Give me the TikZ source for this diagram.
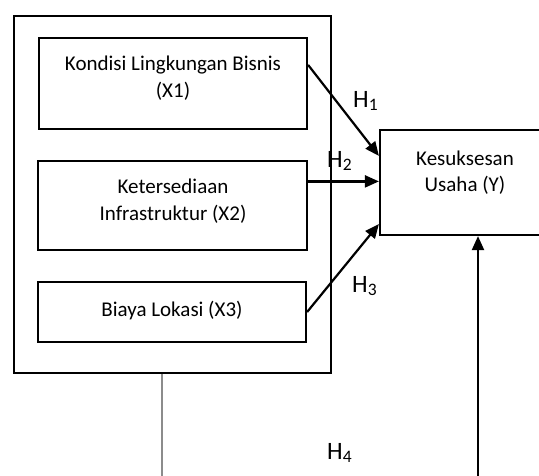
\documentclass[tikz,border=0pt]{standalone}
\usepackage{fontspec}
\setmainfont{Carlito}
\usetikzlibrary{calc,arrows.meta}
\begin{document}
\begin{tikzpicture}[x=1pt,y=-1pt,
  box/.style={draw=black,line width=2.2pt,inner sep=0pt},
  txt/.style={font=\fontsize{21}{26}\selectfont,anchor=base,inner sep=0pt},
  hlab/.style={font=\fontsize{25}{28}\selectfont,anchor=base west,inner sep=0pt},
  arr/.style={line width=2.2pt,-{Triangle[length=14pt,width=12pt]}},
  gline/.style={line width=1.6pt,draw=black!45}]
\useasboundingbox (0,0) rectangle (539,475);
% boxes
\node[box,minimum width=317pt,minimum height=357pt] (outer) at (172.5,194.5) {};
\node[box,minimum width=268pt,minimum height=91pt] (x1) at (173,83.5) {};
\node[box,minimum width=269pt,minimum height=89pt] (x2) at (172.5,205.5) {};
\node[box,minimum width=268pt,minimum height=60pt] (x3) at (172,312) {};
\node[box,minimum width=170pt,minimum height=105pt] (y) at (465,182.5) {};
% texts
\node[txt] (t1a) at (173,70) {Kondisi Lingkungan Bisnis};
\node[txt] (t1b) at (173,97) {(X1)};
\node[txt] (t2a) at (173,193) {Ketersediaan};
\node[txt] (t2b) at (173,220) {Infrastruktur (X2)};
\node[txt] (t3) at (172,316) {Biaya Lokasi (X3)};
\node[txt] (tya) at (465,165) {Kesuksesan};
\node[txt] (tyb) at (465,191) {Usaha (Y)};
% hypothesis labels
\node[hlab] (h1) at (353,107) {H\textsubscript{1}};
\node[hlab] (h2) at (327,167) {H\textsubscript{2}};
\node[hlab] (h3) at (352,292) {H\textsubscript{3}};
\node[hlab] (h4) at (327,459) {H\textsubscript{4}};
% connectors
\draw[arr] ($(x1.north east)+(0,28)$) -- ($(y.north west)+(0,27)$);
\draw[arr] ($(x2.north east)+(0,21.5)$) -- ($(y.north west)+(0,52.5)$);
\draw[arr] (x3.east) -- ($(y.south west)+(0,-12)$);
\coordinate (vb) at (478,476);
\draw[arr] (vb) -- (y.south -| vb);
\coordinate (gb) at (162,476);
\draw[gline] (outer.south -| gb) -- (gb);
\end{tikzpicture}
\end{document}
